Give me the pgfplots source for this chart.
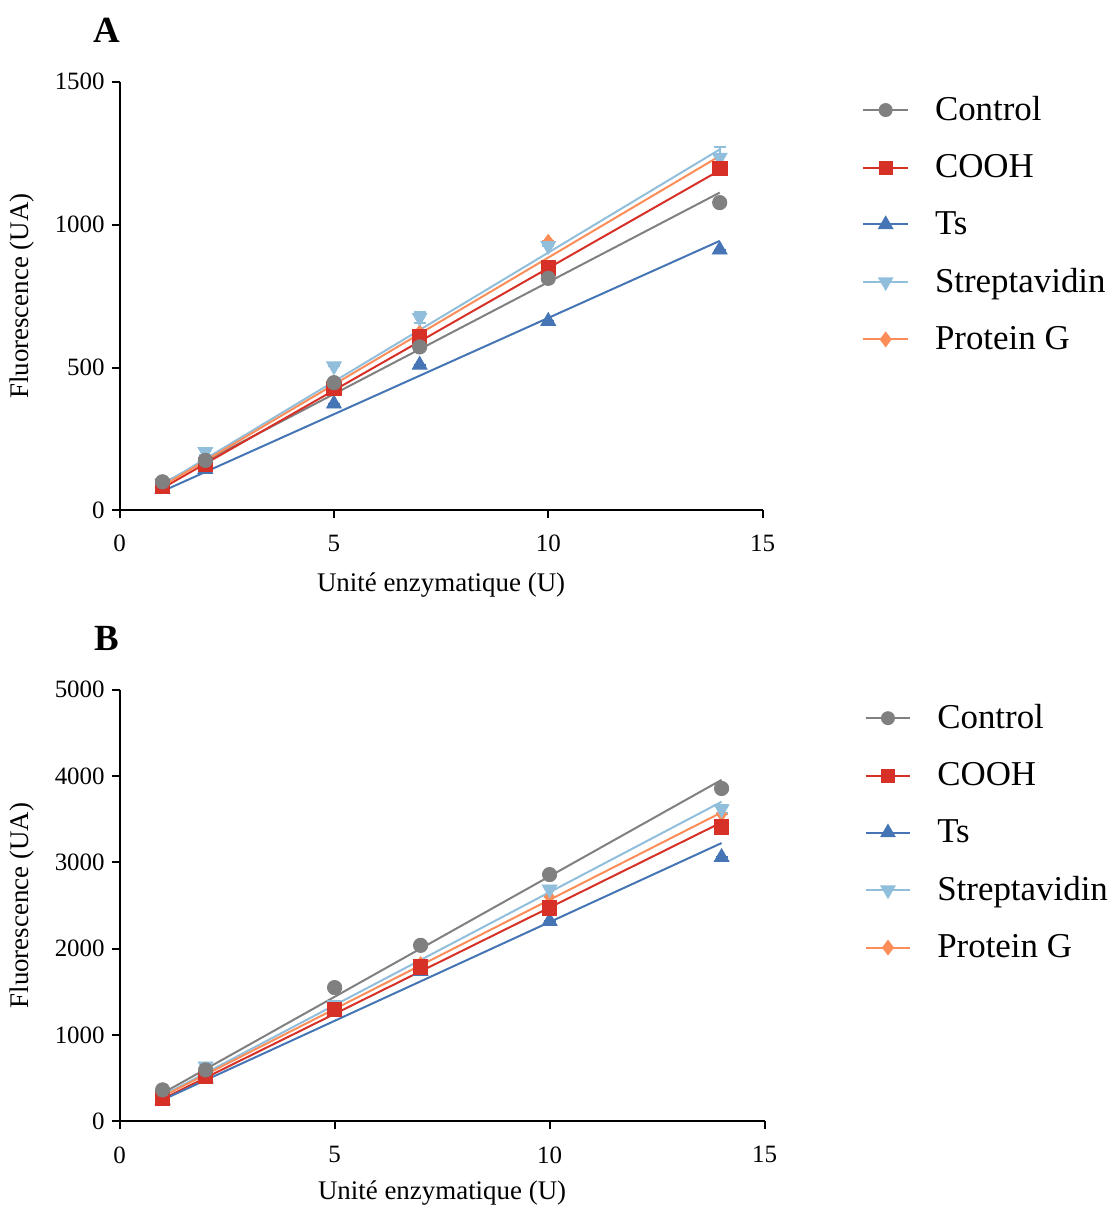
\documentclass[border=0pt]{standalone}
\usepackage{pgfplots}
\pgfplotsset{compat=1.18}
\usepackage{fontspec}
\setmainfont{Liberation Serif}
\definecolor{cgray}{RGB}{128,128,128}
\definecolor{cred}{RGB}{215,48,39}
\definecolor{cblue}{RGB}{69,117,180}
\definecolor{clblue}{RGB}{145,191,219}
\definecolor{corange}{RGB}{252,141,89}
\pgfplotsset{
  panel/.style={
    scale only axis, width=322.5pt, height=215pt,
    axis x line*=bottom, axis y line*=left,
    axis line style={line width=1pt, black},
    tick style={line width=1pt, black},
    tick align=outside, major tick length=4pt,
    xmin=0, xmax=15, xtick={0,5,10,15},
    ymin=0, clip=false,
    /pgf/number format/assume math mode=true,
    /pgf/number format/1000 sep={},
    tick label style={font=\fontsize{12.5}{14}\selectfont},
    xticklabel style={yshift=-5pt},
    label style={font=\fontsize{13.5}{16}\selectfont},
    ylabel={Fluorescence (UA)},
    xlabel={Unité enzymatique (U)},
    ylabel style={at={(axis description cs:-0.152,0.5)}, anchor=center},
    legend style={draw=none, fill=none, font=\fontsize{17.5}{21}\selectfont,
      inner sep=0pt, outer sep=0pt,
      at={(axis description cs:1.155,0.975)}, anchor=north west,
      row sep=11.5pt, /tikz/every odd column/.append style={column sep=11pt}},
    legend cell align=left,
    legend image code/.code={
      \draw[#1, line width=1pt, mark repeat=2, mark phase=2] plot coordinates {(0pt,0pt) (11.25pt,0pt) (22.5pt,0pt)};},
  },
  fitline/.style={line width=1pt, forget plot},
  mk/.style={only marks, forget plot,
     /pgfplots/error bars/y dir=both, /pgfplots/error bars/y explicit,
     /pgfplots/error bars/error bar style={line width=1pt},
     /pgfplots/error bars/error mark options={rotate=90, mark size=3pt, line width=1pt}},
}
\begin{document}
\begin{tikzpicture}
\path (0,0) rectangle (556.5pt,-606pt);
\node[font=\fontsize{18.5}{21}\selectfont\bfseries] at (53.5pt,-15pt) {A};
\node[font=\fontsize{18.5}{21}\selectfont\bfseries] at (53.5pt,-320pt) {B};
% Panel A
\begin{axis}[panel, at={(60pt,-256pt)}, anchor=south west,
  ymax=1500, ytick={0,500,1000,1500},
  xlabel style={at={(axis description cs:0.5,-0.174)}, anchor=center}]
\addlegendimage{cgray, mark=*, mark size=3pt}\addlegendentry{Control}
\addlegendimage{cred, mark=square*, mark size=3pt}\addlegendentry{COOH}
\addlegendimage{cblue, mark=triangle*, mark size=3.6pt}\addlegendentry{Ts}
\addlegendimage{clblue, mark=triangle*, mark options={rotate=180}, mark size=3.6pt}\addlegendentry{Streptavidin}
\addlegendimage{corange, mark=diamond*, mark size=3.2pt}\addlegendentry{Protein G}
\addplot[fitline, cgray] coordinates {(1,94) (14,1112)};
\addplot[fitline, cred] coordinates {(1,78) (14,1190)};
\addplot[fitline, cblue] coordinates {(1,67) (14,943)};
\addplot[fitline, clblue] coordinates {(1,90) (14,1263)};
\addplot[fitline, corange] coordinates {(1,85) (14,1240)};
\addplot[mk, color=corange, mark=diamond*, mark size=3.4pt] table[x=x, y=y, y error=e] {
x y e
1 92 0
2 190 0
5 440 0
7 625 0
10 942 0
14 1215 0
};
\addplot[mk, color=clblue, mark=triangle*, mark size=4.3pt, mark options={rotate=180}] table[x=x, y=y, y error=e] {
x y e
1 95 0
2 205 10
5 505 0
7 675 20
10 926 0
14 1235 35
};
\addplot[mk, color=cblue, mark=triangle*, mark size=4.3pt] table[x=x, y=y, y error=e] {
x y e
1 75 0
2 144 0
5 373 0
7 509 0
10 662 0
14 912 0
};
\addplot[mk, color=cred, mark=square*, mark size=3.6pt] table[x=x, y=y, y error=e] {
x y e
1 83 0
2 160 0
5 426 0
7 609 0
10 848 0
14 1197 0
};
\addplot[mk, color=cgray, mark=*, mark size=3.6pt] table[x=x, y=y, y error=e] {
x y e
1 100 0
2 175 0
5 447 0
7 572 0
10 812 0
14 1077 12
};
\end{axis}
% Panel B
\begin{axis}[panel, at={(60pt,-562.5pt)}, anchor=south west, height=216.5pt, width=323.5pt,
  ymax=5000, ytick={0,1000,2000,3000,4000,5000},
  xlabel style={at={(axis description cs:0.5,-0.166)}, anchor=center}]
\addlegendimage{cgray, mark=*, mark size=3pt}\addlegendentry{Control}
\addlegendimage{cred, mark=square*, mark size=3pt}\addlegendentry{COOH}
\addlegendimage{cblue, mark=triangle*, mark size=3.6pt}\addlegendentry{Ts}
\addlegendimage{clblue, mark=triangle*, mark options={rotate=180}, mark size=3.6pt}\addlegendentry{Streptavidin}
\addlegendimage{corange, mark=diamond*, mark size=3.2pt}\addlegendentry{Protein G}
\addplot[fitline, cgray] coordinates {(1,327) (14,3957)};
\addplot[fitline, cred] coordinates {(1,260) (14,3464)};
\addplot[fitline, cblue] coordinates {(1,250) (14,3225)};
\addplot[fitline, clblue] coordinates {(1,300) (14,3703)};
\addplot[fitline, corange] coordinates {(1,290) (14,3580)};
\addplot[mk, color=corange, mark=diamond*, mark size=3.4pt] table[x=x, y=y, y error=e] {
x y e
1 280 0
2 560 0
5 1310 0
7 1830 0
10 2600 0
14 3560 0
};
\addplot[mk, color=clblue, mark=triangle*, mark size=4.3pt, mark options={rotate=180}] table[x=x, y=y, y error=e] {
x y e
1 300 0
2 640 0
5 1350 0
7 1830 0
10 2690 0
14 3620 50
};
\addplot[mk, color=cblue, mark=triangle*, mark size=4.3pt] table[x=x, y=y, y error=e] {
x y e
1 250 0
2 500 0
5 1270 0
7 1740 0
10 2321 0
14 3060 0
};
\addplot[mk, color=cred, mark=square*, mark size=3.6pt] table[x=x, y=y, y error=e] {
x y e
1 269 0
2 520 0
5 1300 0
7 1790 0
10 2475 0
14 3414 0
};
\addplot[mk, color=cgray, mark=*, mark size=3.6pt] table[x=x, y=y, y error=e] {
x y e
1 366 0
2 597 0
5 1551 0
7 2040 0
10 2860 0
14 3857 0
};
\end{axis}
\end{tikzpicture}
\end{document}
